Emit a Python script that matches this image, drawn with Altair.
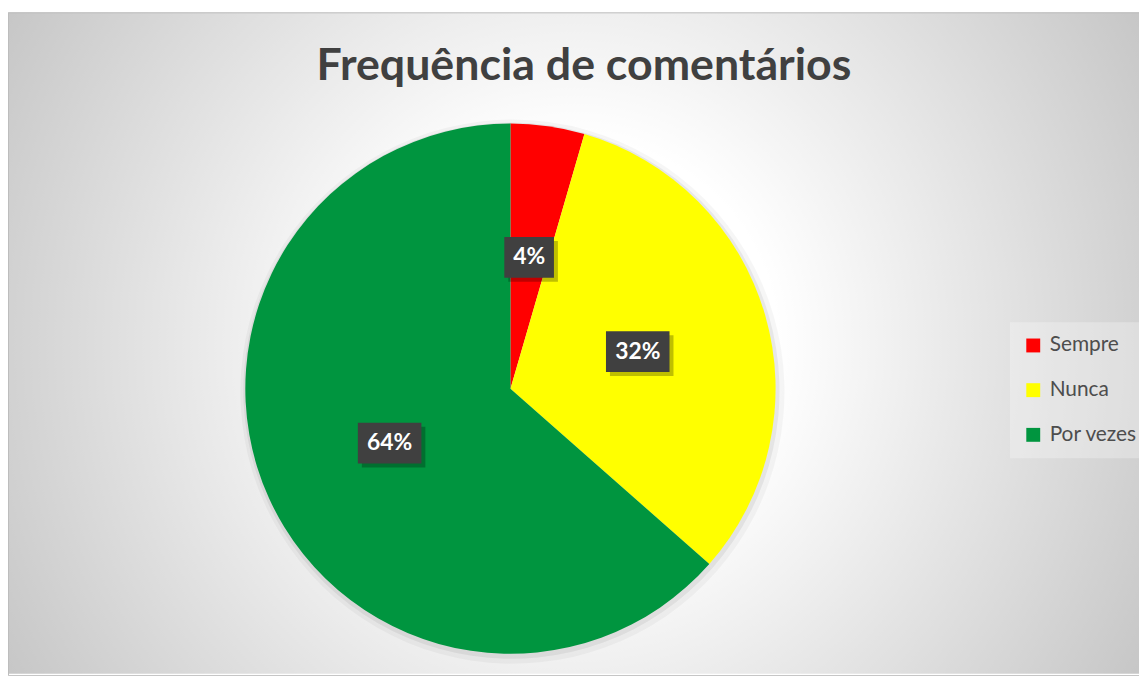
import altair as alt
import pandas as pd

# ---- data ----
title_text = "Frequência de comentários"
categories = ["Sempre", "Nunca", "Por vezes"]
values = [4.5, 32.0, 63.5]
labels = ["4%", "32%", "64%"]
colors = ["#ff0000", "#ffff00", "#00953f"]

df = pd.DataFrame({"cat": categories, "value": values, "label": labels,
                   "idx": list(range(len(categories)))})

# ---- layout (pixels) ----
W, H = 1139, 666
CX, CY, R = 506, 379, 267
LR = 0.5 * R
GX, GY, GR = 570, 333, 680

# background with radial gradient
bg = alt.Chart(alt.Data(values=[{"a": 1}])).mark_rect(
    clip=True,
    fill=alt.RadialGradient(
        gradient="radial",
        stops=[alt.GradientStop(color="#ffffff", offset=0),
               alt.GradientStop(color="#ffffff", offset=0.3),
               alt.GradientStop(color="#c4c4c4", offset=1)],
        x1=0.5, y1=0.5, r1=0, x2=0.5, y2=0.5, r2=0.5),
).encode(x=alt.value(GX - GR), x2=alt.value(GX + GR),
         y=alt.value(GY - GR), y2=alt.value(GY + GR))

border = alt.Chart(alt.Data(values=[{"a": 1}])).mark_rect(
    fillOpacity=0, stroke="#bdbdbd", strokeWidth=1
).encode(x=alt.value(0.5), x2=alt.value(W + 2), y=alt.value(0.5), y2=alt.value(H + 2))

base = alt.Chart(df)

shadow1 = base.mark_arc(outerRadius=R + 3, x=CX + 1, y=CY + 2, color="#000000",
                        opacity=0.06).encode(theta=alt.Theta("value:Q", stack=True),
                                             order=alt.Order("idx:Q"))
shadow2 = base.mark_arc(outerRadius=R + 7, x=CX + 2, y=CY + 3, color="#000000",
                        opacity=0.035).encode(theta=alt.Theta("value:Q", stack=True),
                                              order=alt.Order("idx:Q"))

pie = base.mark_arc(outerRadius=R, x=CX, y=CY).encode(
    theta=alt.Theta("value:Q", stack=True),
    order=alt.Order("idx:Q"),
    color=alt.Color(
        "cat:N",
        scale=alt.Scale(domain=categories, range=colors),
        sort=categories,
        legend=alt.Legend(
            title=None, orient="none", legendX=1009, legendY=312,
            symbolType="square", symbolSize=196, symbolStrokeWidth=0,
            labelFont="Lato", labelFontSize=21, labelColor="#4d4d4d",
            labelOffset=6, rowPadding=23, padding=13,
            fillColor="rgba(255,255,255,0.28)",
        ),
    ),
)

lab = base.transform_window(
    cum="sum(value)", sort=[alt.SortField("idx")], frame=[None, 0]
).transform_joinaggregate(total="sum(value)").transform_calculate(
    mid="(datum.cum - datum.value / 2) / datum.total * 2 * PI"
).transform_calculate(
    lx=f"{CX} + {LR} * sin(datum.mid)",
    ly=f"{CY} - {LR} * cos(datum.mid)",
    hw="11 + 7 * length(datum.label)",
).transform_calculate(
    bx1="datum.lx - datum.hw", bx2="datum.lx + datum.hw",
    by1="datum.ly - 20.5", by2="datum.ly + 20.5",
    sx1="datum.lx - datum.hw + 4", sx2="datum.lx + datum.hw + 4",
    sy1="datum.ly - 20.5 + 4", sy2="datum.ly + 20.5 + 4",
)

box_shadow = lab.mark_rect(color="#000000", opacity=0.25).encode(
    x=alt.X("sx1:Q", scale=None), x2="sx2:Q",
    y=alt.Y("sy1:Q", scale=None), y2="sy2:Q")

boxes = lab.mark_rect(color="#404040").encode(
    x=alt.X("bx1:Q", scale=None), x2="bx2:Q",
    y=alt.Y("by1:Q", scale=None), y2="by2:Q")

texts = lab.mark_text(font="Lato", fontWeight="bold", fontSize=23, color="#ffffff",
                      baseline="middle", align="center").encode(
    x=alt.X("lx:Q", scale=None), y=alt.Y("ly:Q", scale=None), text="label:N")

title = alt.Chart(alt.Data(values=[{"t": title_text}])).mark_text(
    font="Lato", fontWeight="bold", fontSize=45, color="#404040",
    align="center", baseline="alphabetic"
).encode(text="t:N", x=alt.value(580), y=alt.value(68))

chart = alt.layer(bg, border, shadow2, shadow1, pie, box_shadow, boxes, texts, title).properties(
    width=W, height=H, autosize="none",
    padding={"left": 0, "top": 2, "right": 0, "bottom": 0},
).configure_view(strokeWidth=0)

chart.save("out.html", embed_options={"renderer": "svg", "actions": False})
